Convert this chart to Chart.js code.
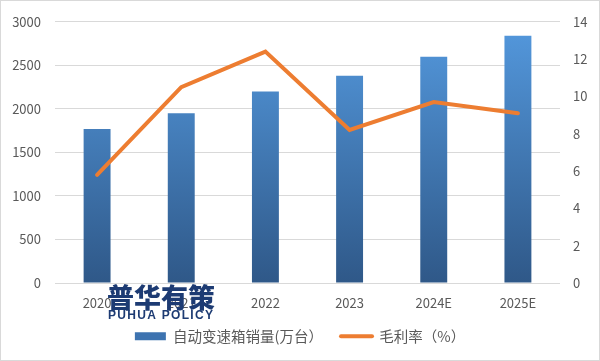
<!DOCTYPE html>
<html>
<head>
<meta charset="utf-8">
<script src="https://cdn.jsdelivr.net/npm/chart.js@4"></script>
<style>
    body { margin: 0; background: #fff; }
    #wrap { width: 600px; height: 361px; }
</style>
</head>
<body>
<div id="wrap"><canvas id="myChart" width="600" height="361"></canvas></div>
<script>
const years = ['2020', '2021', '2022', '2023', '2024E', '2025E'];
const sales = [1770, 1950, 2200, 2380, 2600, 2840];
const margin = [5.8, 10.5, 12.4, 8.2, 9.7, 9.1];
const salesTicks = [0, 500, 1000, 1500, 2000, 2500, 3000];
const marginTicks = [0, 2, 4, 6, 8, 10, 12, 14];

const font = '"Microsoft YaHei", "Noto Sans CJK SC", "Noto Sans", sans-serif';

function barGradient(context) {
    const chart = context.chart;
    const area = chart.chartArea;
    if (!area) {
        return '#4a86c8';
    }
    const g = chart.ctx.createLinearGradient(0, area.top, 0, area.bottom);
    g.addColorStop(0, '#5499de');
    g.addColorStop(1, '#2f5888');
    return g;
}

// border + watermark
const extras = {
    id: 'extras',
    beforeDraw(chart) {
        const ctx = chart.ctx;
        ctx.save();
        ctx.fillStyle = '#fff';
        ctx.fillRect(0, 0, chart.width, chart.height);
        ctx.restore();
    },
    afterDraw(chart) {
        const ctx = chart.ctx;
        ctx.save();
        ctx.strokeStyle = '#d9d9d9';
        ctx.lineWidth = 1;
        ctx.strokeRect(0.5, 0.5, chart.width - 1, chart.height - 1);

        ctx.fillStyle = '#1d3b73';
        ctx.textAlign = 'left';
        ctx.textBaseline = 'middle';
        ctx.font = '900 27px ' + font;
        ctx.fillText('普华有策', 107, 298);
        ctx.font = 'bold 12px "Liberation Sans", Arial, sans-serif';
        ctx.letterSpacing = '1.3px';
        ctx.fillText('PUHUA POLICY', 108, 316);
        ctx.restore();
    }
};

const data = {
    labels: years,
    datasets: [{
        type: 'bar',
        label: '自动变速箱销量(万台）',
        data: sales,
        yAxisID: 'y',
        backgroundColor: barGradient,
        barPercentage: 0.64,
        categoryPercentage: 0.5,
        order: 2
    }, {
        type: 'line',
        label: '毛利率（%）',
        data: margin,
        yAxisID: 'y1',
        borderColor: '#ed7d31',
        borderWidth: 4,
        pointRadius: 0,
        tension: 0,
        borderCapStyle: 'round',
        order: 1
    }]
};

const config = {
    data: data,
    plugins: [extras],
    options: {
        responsive: false,
        animation: false,
        layout: {
            padding: { top: 18, left: 0, right: 0, bottom: 7.5 }
        },
        plugins: {
            tooltip: { enabled: false },
            legend: {
                display: true,
                position: 'bottom',
                labels: {
                    color: '#595959',
                    font: { family: font, size: 14.5 },
                    usePointStyle: true,
                    pointStyleWidth: 31,
                    boxHeight: 8,
                    padding: 18,
                    generateLabels: function (chart) {
                        return [{
                            text: data.datasets[0].label,
                            fillStyle: '#3d73b0',
                            strokeStyle: '#3d73b0',
                            lineWidth: 0,
                            pointStyle: 'rect',
                            fontColor: '#595959',
                            datasetIndex: 0,
                            hidden: false
                        }, {
                            text: data.datasets[1].label,
                            fillStyle: '#ed7d31',
                            strokeStyle: '#ed7d31',
                            lineWidth: 4,
                            lineCap: 'round',
                            pointStyle: 'line',
                            fontColor: '#595959',
                            datasetIndex: 1,
                            hidden: false
                        }];
                    }
                }
            }
        },
        scales: {
            x: {
                grid: { display: false, drawTicks: false },
                border: { display: false },
                afterFit: function (axis) {
                    axis.height = 28;
                },
                ticks: {
                    color: '#595959',
                    font: { family: font, size: 13 },
                    padding: 12
                }
            },
            y: {
                position: 'left',
                min: 0,
                max: 3000,
                afterBuildTicks: function (axis) {
                    axis.ticks = salesTicks.map(v => ({ value: v }));
                },
                afterFit: function (axis) {
                    axis.width = 55;
                },
                grid: { color: '#d9d9d9', drawTicks: false },
                border: { display: false },
                ticks: {
                    color: '#595959',
                    font: { family: font, size: 13 },
                    padding: 14,
                    callback: v => String(v)
                }
            },
            y1: {
                position: 'right',
                min: 0,
                max: 14,
                afterBuildTicks: function (axis) {
                    axis.ticks = marginTicks.map(v => ({ value: v }));
                },
                afterFit: function (axis) {
                    axis.width = 40;
                },
                grid: { display: false, drawTicks: false },
                border: { display: false },
                ticks: {
                    color: '#595959',
                    font: { family: font, size: 13 },
                    padding: 13,
                    callback: v => String(v)
                }
            }
        }
    }
};

const myChart = new Chart(document.getElementById('myChart'), config);
</script>
</body>
</html>
